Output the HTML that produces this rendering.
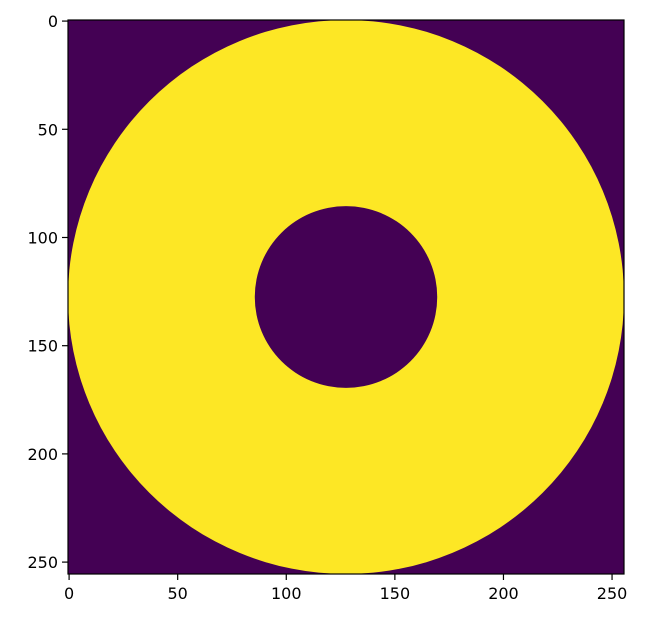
<!DOCTYPE html>
<html><head><meta charset="utf-8"><style>
body{margin:0;background:#fff;}
text{font-family:"DejaVu Sans","Liberation Sans",sans-serif;font-size:16px;fill:#000;}
</style></head><body>
<svg id="chart" width="646" height="625"></svg>
<script>
const imgSize = [256, 256];
const ringCenter = [128, 128];
const outerRadius = [128];
const innerRadius = [42];
const xTicks = [0, 50, 100, 150, 200, 250];
const yTicks = [0, 50, 100, 150, 200, 250];

const L = 68, T = 20, W = 556, H = 554;
const sx = v => L + (v + 0.5) * W / imgSize[0];
const sy = v => T + (v + 0.5) * H / imgSize[1];
const svg = document.getElementById('chart');
const NS = 'http://www.w3.org/2000/svg';
function mk(tag, attrs) { const e = document.createElementNS(NS, tag); for (const k in attrs) e.setAttribute(k, attrs[k]); svg.appendChild(e); return e; }

const bg = mk('rect', {x: L, y: T, width: W, height: H, fill: '#440154'});



const cx = sx(ringCenter[0] - 0.5), cy = sy(ringCenter[1] - 0.5);
const cp = mk('clipPath', {id: 'clip'});
const cr = document.createElementNS(NS, 'rect');
cr.setAttribute('x', L); cr.setAttribute('y', T); cr.setAttribute('width', W); cr.setAttribute('height', H);
cp.appendChild(cr);
const outer = mk('ellipse', {cx: cx, cy: cy, rx: outerRadius[0] * W / imgSize[0], ry: outerRadius[0] * H / imgSize[1], fill: '#fde725', 'clip-path': 'url(#clip)'});


const inner = mk('ellipse', {cx: cx, cy: cy, rx: innerRadius[0] * W / imgSize[0], ry: innerRadius[0] * H / imgSize[1], fill: '#440154'});



const frame = mk('rect', {x: L, y: T, width: W, height: H, fill: 'none', stroke: '#000', 'stroke-width': 1.2});



xTicks.forEach(t => {
  const x = sx(t);
  const ln = mk('line', {x1: x, x2: x, y1: T + H, y2: T + H + 6, stroke: '#000', 'stroke-width': 1.2});
  
  
  const tx = mk('text', {x: x, y: T + H + 25, 'text-anchor': 'middle'});
  tx.textContent = t;
  
  
});
yTicks.forEach(t => {
  const y = sy(t);
  const ln = mk('line', {x1: L - 6, x2: L, y1: y, y2: y, stroke: '#000', 'stroke-width': 1.2});
  
  
  const tx = mk('text', {x: L - 10, y: y + 6, 'text-anchor': 'end'});
  tx.textContent = t;
  
  
});
</script>
</body></html>
